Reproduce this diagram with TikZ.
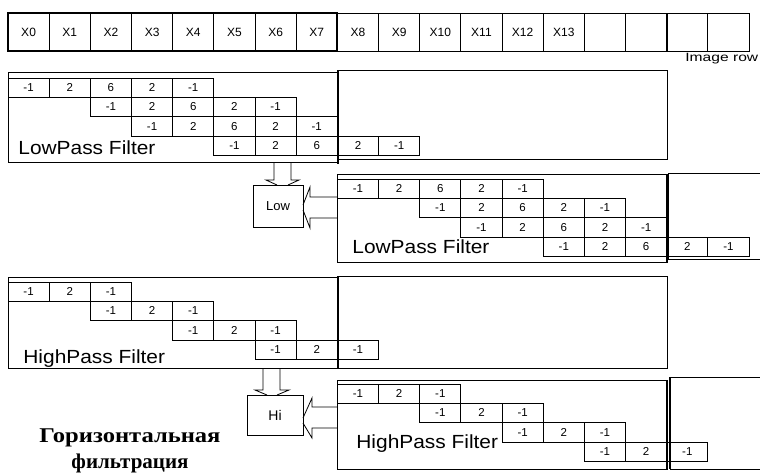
\documentclass[tikz,border=0pt]{standalone}
\usepackage{fontspec}
\setmainfont{Liberation Sans}
\newfontfamily\rusfont{Liberation Serif}
\usepackage{tikz}
\usetikzlibrary{positioning}

\def\xo{8}       % left x of column 0
\def\cw{41.17}   % column width
\def\rh{19.3}    % filter row height

\begin{document}
\begin{tikzpicture}[x=1pt, y=-1pt, line width=0.8pt,
  heavy/.style={line width=1.8pt},
  xcell/.style={draw, anchor=north west, minimum width=\cw pt, minimum height=38pt,
    inner sep=0pt, outer sep=0pt, font=\fontsize{12}{12}\selectfont},
  cell/.style={draw, anchor=north west, minimum width=\cw pt, minimum height=\rh pt,
    inner sep=0pt, outer sep=0pt, font=\fontsize{11.5}{11.5}\selectfont},
  panel/.style={draw, anchor=north west, inner sep=0pt, outer sep=0pt},
  caption/.style={anchor=base west, inner sep=0pt, font=\fontsize{19}{19}\selectfont},
  outbox/.style={draw, inner sep=0pt, outer sep=0pt}]
\useasboundingbox (0,0) rectangle (760,474);

%% Image row
\foreach \i in {0,...,13}
  \node[xcell] (x\i) at ({\xo+\i*\cw},13) {X\i};
\foreach \i in {14,...,17}
  \node[xcell] (x\i) at ({\xo+\i*\cw},13) {};
\draw[heavy] (x0.north west) rectangle (x7.south east);
\draw[heavy] (x15.north east) -- (x15.south east);
\node[anchor=base west, inner sep=0pt, font=\fontsize{12}{12}\selectfont] (imgrow)
  at (685,61) {\scalebox{1.3}[1]{Image row}};

%% LowPass, first position
\node[panel, minimum width=330pt, minimum height=90pt] (lpa) at (8,72) {};
\node[panel, minimum width=329pt, minimum height=89pt] (lpar) at (338,70) {};
\draw[heavy] (lpar.north west) -- ++(0,94);
\node[caption] (lpacap) at (18,154) {\scalebox{1.1}[1]{LowPass Filter}};

%% LowPass, shifted by 8 columns
\node[panel, minimum width=330pt, minimum height=88pt] (lpb) at (337,174) {};
\draw (760,173) -- (668,173) -- (668,259) -- (760,259);
\draw[heavy] (lpb.north east) -- ++(0,89);
\node[caption] (lpbcap) at (352,253) {\scalebox{1.1}[1]{LowPass Filter}};

\foreach \pc/\py in {0/78, 8/179}
  \foreach \r/\s in {0/0, 1/2, 2/3, 3/5}
    \foreach \v [count=\i from 0] in {-1,2,6,2,-1}
      \node[cell] (l\pc-\r-\i) at ({\xo+(\pc+\s+\i)*\cw},{\py+\r*\rh}) {\v};

%% HighPass, first position
\node[panel, minimum width=330pt, minimum height=91pt] (hpa) at (8,277) {};
\node[panel, minimum width=329pt, minimum height=92pt] (hpar) at (338,276) {};
\draw[heavy] (hpar.north west) -- ++(0,93);
\node[caption] (hpacap) at (23,363) {\scalebox{1.1}[1]{HighPass Filter}};

%% HighPass, shifted by 8 columns
\node[panel, minimum width=330pt, minimum height=89pt] (hpb) at (337,380) {};
\draw (760,377) -- (670,377) -- (670,469) -- (760,469);
\draw[line width=1.2pt] (hpb.north east) -- (hpb.south east);
\draw[line width=1.2pt] (670,377) -- (670,469);
\node[caption] (hpbcap) at (356,448) {\scalebox{1.1}[1]{HighPass Filter}};

\foreach \pc/\py in {0/282, 8/384}
  \foreach \r/\s in {0/0, 1/2, 2/4, 3/6}
    \foreach \v [count=\i from 0] in {-1,2,-1}
      \node[cell] (h\pc-\r-\i) at ({\xo+(\pc+\s+\i)*\cw},{\py+\r*\rh}) {\v};

%% Output boxes
\node[outbox, minimum width=50pt, minimum height=42pt,
  font=\fontsize{13}{13}\selectfont] (low) at (278,206) {Low};
\node[outbox, minimum width=56pt, minimum height=40pt,
  font=\fontsize{14}{14}\selectfont] (hi) at (275,415) {Hi};

%% Block arrows into Low
\draw ([xshift=-4pt]low.north |- lpa.south) -- ([xshift=-4pt,yshift=5pt]low.north)
  -- ([xshift=-12pt,yshift=5pt]low.north) -- ([xshift=-1pt]low.north)
  ([xshift=10pt]low.north) -- ([xshift=21pt,yshift=5pt]low.north)
  -- ([xshift=13pt,yshift=5pt]low.north) -- ([xshift=13pt]low.north |- lpa.south);
\draw ([yshift=9pt]low.east -| lpb.west) -- ([xshift=7pt,yshift=9pt]low.east)
  -- ([xshift=7pt,yshift=19pt]low.east) -- ([yshift=1pt]low.east)
  ([yshift=-4pt]low.east) -- ([xshift=7pt,yshift=-22pt]low.east)
  -- ([xshift=7pt,yshift=-12pt]low.east) -- ([yshift=-12pt]low.east -| lpb.west);

%% Block arrows into Hi
\draw ([xshift=-12pt]hi.north |- hpa.south) -- ([xshift=-12pt,yshift=5pt]hi.north)
  -- ([xshift=-20pt,yshift=5pt]hi.north) -- ([xshift=-8pt]hi.north)
  ([xshift=2pt]hi.north) -- ([xshift=14pt,yshift=5pt]hi.north)
  -- ([xshift=5pt,yshift=5pt]hi.north) -- ([xshift=5pt]hi.north |- hpa.south);
\draw ([yshift=8pt]hi.east -| hpb.west) -- ([xshift=9pt,yshift=8pt]hi.east)
  -- ([xshift=9pt,yshift=17pt]hi.east) -- ([yshift=-3pt]hi.east)
  ([yshift=-8pt]hi.east) -- ([xshift=9pt,yshift=-23pt]hi.east)
  -- ([xshift=9pt,yshift=-13pt]hi.east) -- ([yshift=-13pt]hi.east -| hpb.west);

%% Caption
\node[align=center, inner sep=0pt, font=\rusfont\bfseries\fontsize{21}{26}\selectfont]
  (title) at (130,451) {\scalebox{1.17}[1]{Горизонтальная}\\фильтрация};
\end{tikzpicture}
\end{document}
